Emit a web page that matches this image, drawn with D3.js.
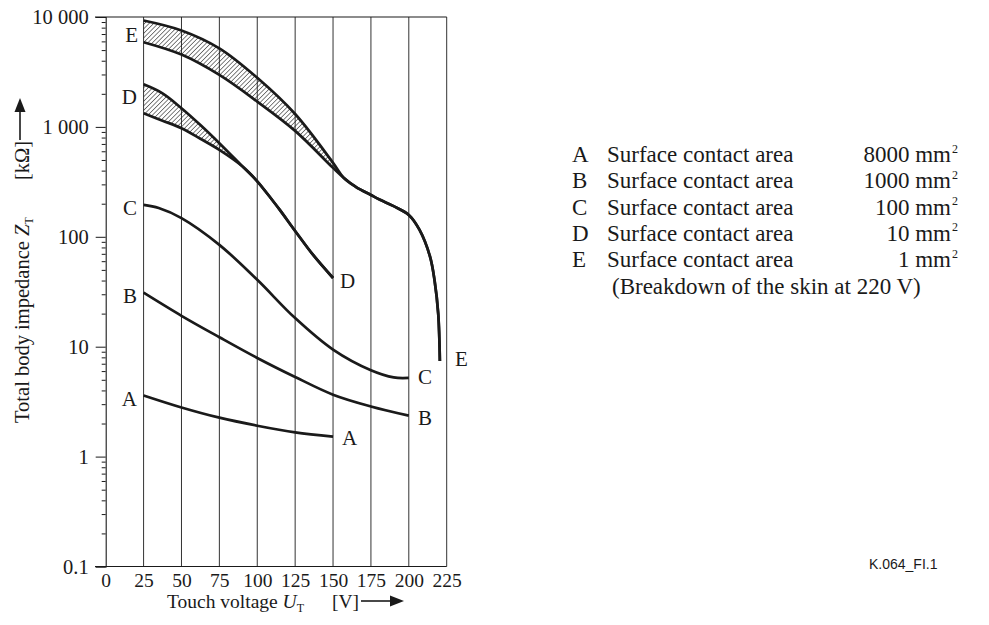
<!DOCTYPE html>
<html><head><meta charset="utf-8">
<script src="https://cdn.jsdelivr.net/npm/d3@7"></script>
<style>
body{margin:0;background:#fff}
svg{display:block}
text{font-family:"Liberation Serif","Times New Roman",serif;fill:#1a1a1a}
text.sans{font-family:"Liberation Sans",Arial,sans-serif}
</style>
</head><body>
<svg id="c" width="989" height="625"></svg>
<script>
// ---- data ----
const xTicks = [0,25,50,75,100,125,150,175,200,225];
const yTicks = [0.1,1,10,100,1000,10000];
const yTickLabels = ["0.1","1","10","100","1 000","10 000"];

const curveA_V = [25,50,75,100,125,150];
const curveA_Z = [3.6,2.8,2.26,1.91,1.66,1.52];

const curveB_V = [25,50,75,100,125,150,175,200];
const curveB_Z = [31,19.1,12.2,7.9,5.3,3.66,2.86,2.36];

const curveC_V = [25,35,50,75,100,125,150,175,190,200];
const curveC_Z = [195,183,148,84.5,40.6,18.2,9.4,6.1,5.25,5.2];

const bandD_V  = [25,37.5,50,62.5,75,90];
const bandD_hi = [2440,2020,1480,1040,711,440];
const bandD_lo = [1330,1140,973,780,618,440];
const curveD_V = [90,100,110,115,125,137,150];
const curveD_Z = [440,320,215,175,113,68,42.2];

const bandE_V  = [25,50,75,100,125,150,157];
const bandE_hi = [9300,7550,5190,2800,1310,471,345];
const bandE_lo = [5900,4550,2970,1700,920,424,345];
const curveE_V = [157,165,175,181,190,200,207,214,217,219.4,220.5];
const curveE_Z = [345,285,240,217,190,158,116,66,40,20,7.4];

const legendLetters = ["A","B","C","D","E"];
const legendAreas = ["8000","1000","100","10","1"];

// ---- chart ----
const svg = d3.select("#c");
const x = d3.scaleLinear().domain([0,225]).range([105.7,446.7]);
const y = d3.scaleLog().domain([0.1,10000]).range([566.5,17]);

const defs = svg.append("defs");
const pat = defs.append("pattern").attr("id","hatch").attr("patternUnits","userSpaceOnUse")
  .attr("width",3.2).attr("height",3.2).attr("patternTransform","rotate(45)");
pat.append("line").attr("x1",0).attr("y1",0).attr("x2",0).attr("y2",3.2)
  .attr("stroke","#1a1a1a").attr("stroke-width",1.1);

// vertical grid lines
svg.append("g").selectAll("line").data(xTicks.slice(1)).join("line")
  .attr("x1",d=>x(d)).attr("x2",d=>x(d)).attr("y1",y(0.1)).attr("y2",y(10000))
  .attr("stroke","#333").attr("stroke-width",1);

// top & bottom lines
svg.append("line").attr("x1",95).attr("x2",x(225)).attr("y1",y(10000)).attr("y2",y(10000)).attr("stroke","#1a1a1a").attr("stroke-width",1.1);
svg.append("line").attr("x1",95).attr("x2",x(225)).attr("y1",y(0.1)).attr("y2",y(0.1)).attr("stroke","#1a1a1a").attr("stroke-width",1.1);

// y axis
const minor = [];
for (let e=-1;e<4;e++) for (let m=2;m<10;m++) minor.push(m*Math.pow(10,e));
const yAxis = d3.axisLeft(y).tickValues(yTicks).tickFormat((d,i)=>yTickLabels[i]).tickSize(10).tickPadding(7);
const gy = svg.append("g").attr("transform",`translate(${x(0)},0)`).call(yAxis);
gy.select(".domain").attr("stroke","#1a1a1a").attr("stroke-width",1.1);
gy.selectAll(".tick line").attr("stroke","#1a1a1a");
gy.selectAll(".tick text").style("font-size","20.5px");
svg.append("g").attr("transform",`translate(${x(0)},0)`).call(d3.axisLeft(y).tickValues(minor).tickSize(4).tickFormat(""))
  .call(g=>{g.select(".domain").remove(); g.selectAll(".tick line").attr("stroke","#1a1a1a");});

// x axis labels
const xAxis = d3.axisBottom(x).tickValues(xTicks).tickSize(0).tickPadding(7);
const gx = svg.append("g").attr("transform",`translate(0,${y(0.1)})`).call(xAxis);
gx.select(".domain").remove();
gx.selectAll(".tick text").style("font-size","19.5px");

// curves
const zipper = (vs,zs)=>vs.map((v,i)=>[v,zs[i]]);
const curveType = d3.curveCatmullRom.alpha(0.5);
const line = d3.line().x(d=>x(d[0])).y(d=>y(d[1])).curve(curveType);
const area = d3.area().x(d=>x(d[0])).y0(d=>y(d[2])).y1(d=>y(d[1])).curve(curveType);
const curveStyle = s=>s.attr("fill","none").attr("stroke","#1a1a1a").attr("stroke-width",2.7).attr("stroke-linejoin","round");

function band(V,hi,lo,cv,cz){
  const merged = zipper(cv,cz).slice(1);
  const hiLine = zipper(V,hi).concat(merged);
  const loLine = zipper(V,lo).concat(merged);
  // hatched region between the two bounding curves
  const poly = "M" + line(hiLine).slice(1) + "L" + line(loLine.slice().reverse()).slice(1) + "Z";
  svg.append("path").attr("d",poly).attr("fill","url(#hatch)").attr("stroke","none");
  svg.append("path").attr("d",line(hiLine)).call(curveStyle);
  svg.append("path").attr("d",line(loLine)).call(curveStyle);
}
band(bandE_V,bandE_hi,bandE_lo,curveE_V,curveE_Z);
band(bandD_V,bandD_hi,bandD_lo,curveD_V,curveD_Z);
svg.append("path").attr("d",line(zipper(curveC_V,curveC_Z))).call(curveStyle);
svg.append("path").attr("d",line(zipper(curveB_V,curveB_Z))).call(curveStyle);
svg.append("path").attr("d",line(zipper(curveA_V,curveA_Z))).call(curveStyle);

// curve labels
const lab = (t,xx,yy,anchor)=>svg.append("text").attr("x",xx).attr("y",yy).style("font-size","21px").attr("text-anchor",anchor).text(t);
lab("E",138,42,"end"); lab("D",137,104,"end"); lab("C",137,215,"end"); lab("B",137,303,"end"); lab("A",137,406,"end");
lab("D",340,288,"start"); lab("C",418,384,"start"); lab("B",418,425,"start"); lab("A",342,445,"start"); lab("E",455,366,"start");

// x title
const xt = svg.append("text").attr("x",167).attr("y",607.5).style("font-size","19.5px");
xt.append("tspan").text("Touch voltage ");
xt.append("tspan").attr("font-style","italic").text("U");
xt.append("tspan").style("font-size","12px").attr("dy",4).text("T");
svg.append("text").attr("x",332).attr("y",607.5).style("font-size","19.5px").text("[V]");
svg.append("line").attr("x1",361).attr("x2",392).attr("y1",601).attr("y2",601).attr("stroke","#1a1a1a").attr("stroke-width",1.6);
svg.append("path").attr("d","M390,595.5 L404,601 L390,606.5 Z").attr("fill","#1a1a1a");

// y title
const yg = svg.append("g").attr("transform","translate(29,423) rotate(-90)");
const yt = yg.append("text").attr("x",0).attr("y",0).style("font-size","20.5px");
yt.append("tspan").text("Total body impedance ");
yt.append("tspan").attr("font-style","italic").text("Z");
yt.append("tspan").style("font-size","12px").attr("dy",4).text("T");
yg.append("text").attr("x",243).attr("y",0).style("font-size","20.5px").text("[kΩ]");
svg.append("line").attr("x1",20).attr("x2",20).attr("y1",140).attr("y2",110).attr("stroke","#1a1a1a").attr("stroke-width",1.6);
svg.append("path").attr("d","M14.5,112 L20,98 L25.5,112 Z").attr("fill","#1a1a1a");

// legend
const lg = svg.append("g");
legendLetters.forEach((L,i)=>{
  const yy = 162 + i*26.3;
  lg.append("text").attr("x",572).attr("y",yy).style("font-size","23px").text(L);
  lg.append("text").attr("x",607).attr("y",yy).style("font-size","23px").text("Surface contact area");
  lg.append("text").attr("x",951).attr("y",yy).style("font-size","23px").attr("text-anchor","end").text(legendAreas[i]+" mm");
  lg.append("text").attr("x",952).attr("y",yy-9.5).style("font-size","12px").text("2");
});
lg.append("text").attr("x",612).attr("y",293.5).style("font-size","23px").text("(Breakdown of the skin at 220 V)");

svg.append("text").attr("class","sans").attr("x",869).attr("y",569).style("font-size","14px").text("K.064_FI.1");
</script>
</body></html>
